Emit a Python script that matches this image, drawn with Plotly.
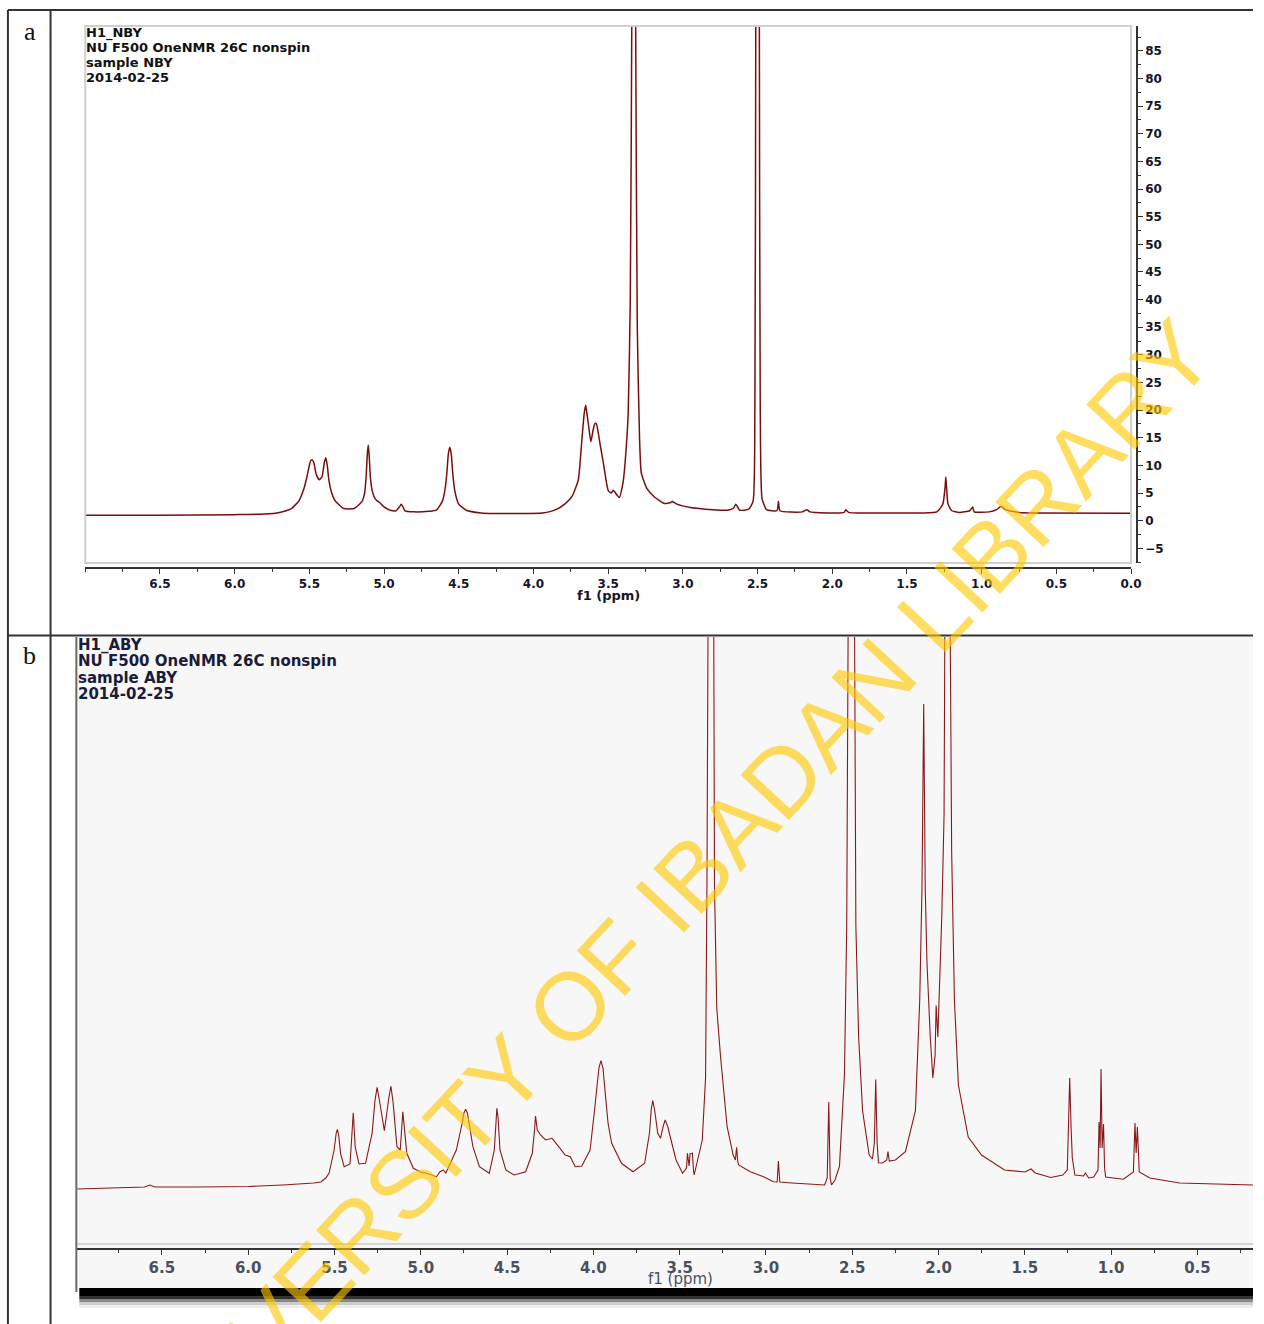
import plotly.graph_objects as go

W, H = 1264, 1324

# ---------------- data ----------------
# Panel a: H1_NBY spectrum (ppm, intensity in axis units)
nby_ppm = [7.00, 6.50, 6.00, 5.80, 5.70, 5.62, 5.57, 5.54, 5.52, 5.50, 5.49, 5.48, 5.47, 5.455,
           5.434, 5.415, 5.40, 5.39, 5.38, 5.37, 5.35, 5.33, 5.27, 5.20, 5.15, 5.13, 5.12, 5.112,
           5.106, 5.10, 5.092, 5.08, 5.06, 5.046, 5.03, 5.00, 4.958, 4.92, 4.895, 4.885, 4.875,
           4.86, 4.80, 4.70, 4.65, 4.61, 4.593, 4.58, 4.57, 4.56, 4.55, 4.54, 4.527, 4.50, 4.45,
           4.35, 4.27, 4.10, 3.94, 3.85, 3.787, 3.74, 3.70, 3.676, 3.66, 3.65, 3.64, 3.63, 3.616,
           3.60, 3.59, 3.58, 3.57, 3.555, 3.532, 3.50, 3.48, 3.466, 3.426, 3.40, 3.387, 3.366,
           3.352, 3.342, 3.33, 3.316, 3.305, 3.29, 3.278, 3.24, 3.19, 3.123, 3.08, 3.07, 3.06,
           3.04, 2.95, 2.80, 2.70, 2.66, 2.645, 2.62, 2.56, 2.53, 2.518, 2.512, 2.50, 2.488,
           2.482, 2.47, 2.44, 2.37, 2.36, 2.35, 2.20, 2.17, 2.15, 1.92, 1.91, 1.89, 1.60, 1.40,
           1.30, 1.26, 1.245, 1.24, 1.235, 1.225, 1.20, 1.15, 1.08, 1.06, 1.05, 0.95, 0.90, 0.87,
           0.84, 0.75, 0.64, 0.00]
nby_int = [1.0, 1.0, 1.1, 1.2, 1.5, 2.2, 3.6, 5.5, 7.5, 10.0, 10.9, 11.0, 10.5, 8.5,
           7.4, 8.0, 10.5, 11.4, 10.0, 7.5, 5.0, 3.7, 2.2, 2.2, 3.4, 5.0, 8.0, 12.0,
           13.7, 12.0, 8.0, 5.5, 4.0, 3.6, 3.3, 2.5, 1.9, 1.8, 2.6, 3.0, 2.6,
           1.8, 1.6, 1.7, 1.9, 3.5, 5.5, 8.5, 12.0, 13.3, 12.0, 8.5, 5.5, 3.0, 1.9,
           1.4, 1.3, 1.3, 1.4, 2.0, 3.1, 4.5, 7.4, 14.6, 19.5, 20.9, 19.0, 17.0, 14.3,
           16.5, 17.5, 17.6, 16.5, 14.0, 10.4, 5.5, 5.0, 5.5, 4.2, 7.0, 10.4, 19.4,
           40.0, 90.0, 250.0, 90.0, 35.0, 15.0, 8.6, 5.8, 4.3, 3.1, 3.3, 3.5, 3.3,
           3.0, 2.4, 2.0, 1.9, 2.3, 3.0, 1.9, 2.1, 3.5, 20.0, 90.0, 250.0, 90.0,
           20.0, 4.0, 2.0, 1.8, 3.5, 1.8, 1.6, 2.0, 1.6, 1.5, 2.0, 1.5, 1.4, 1.4,
           1.6, 3.0, 6.0, 7.9, 6.0, 3.0, 1.8, 1.5, 1.8, 2.5, 1.6, 1.6, 2.0, 2.6,
           2.0, 1.5, 1.4, 1.34]

# Panel b: H1_ABY spectrum (ppm, intensity in arbitrary units)
aby_ppm = [7.00, 6.80, 6.60, 6.57, 6.54, 6.30, 6.00, 5.80, 5.70, 5.62, 5.579, 5.55, 5.531, 5.502,
           5.49, 5.483, 5.475, 5.465, 5.444, 5.41, 5.40, 5.391, 5.38, 5.358, 5.32, 5.282, 5.265,
           5.253, 5.24, 5.211, 5.185, 5.173, 5.16, 5.138, 5.119, 5.104, 5.081, 5.043, 5.00, 4.966,
           4.909, 4.89, 4.87, 4.855, 4.842, 4.794, 4.76, 4.75, 4.740, 4.73, 4.72, 4.698, 4.660,
           4.603, 4.574, 4.565, 4.559, 4.552, 4.541, 4.507, 4.459, 4.392, 4.354, 4.340, 4.335,
           4.325, 4.306, 4.277, 4.239, 4.201, 4.163, 4.134, 4.105, 4.067, 4.019, 3.995, 3.981,
           3.968, 3.956, 3.944, 3.933, 3.915, 3.894, 3.837, 3.770, 3.703, 3.675, 3.665, 3.656,
           3.645, 3.627, 3.611, 3.595, 3.584, 3.570, 3.550, 3.521, 3.483, 3.46, 3.455, 3.445,
           3.44, 3.426, 3.42, 3.416, 3.369, 3.35, 3.342, 3.335, 3.32, 3.305, 3.298, 3.285, 3.263,
           3.225, 3.19, 3.177, 3.17, 3.163, 3.158, 3.091, 3.014, 2.957, 2.935, 2.928, 2.92, 2.85,
           2.75, 2.66, 2.645, 2.636, 2.628, 2.62, 2.60, 2.574, 2.545, 2.532, 2.52, 2.505, 2.49,
           2.479, 2.463, 2.44, 2.402, 2.383, 2.372, 2.364, 2.356, 2.348, 2.325, 2.30, 2.293, 2.285,
           2.25, 2.192, 2.134, 2.109, 2.096, 2.086, 2.077, 2.067, 2.048, 2.033, 2.02, 2.014, 2.004,
           1.991, 1.981, 1.968, 1.962, 1.948, 1.934, 1.924, 1.908, 1.885, 1.828, 1.751, 1.618,
           1.50, 1.464, 1.44, 1.35, 1.28, 1.254, 1.245, 1.24, 1.232, 1.225, 1.21, 1.16, 1.149,
           1.13, 1.101, 1.076, 1.070, 1.064, 1.0585, 1.052, 1.044, 1.038, 1.032, 0.929, 0.871,
           0.862, 0.855, 0.848, 0.837, 0.776, 0.603, 0.40, 0.178]
aby_int = [-1, 0, 1, 3, 1, 1, 1.5, 3, 4, 5, 6, 10, 15, 38,
           55, 58.7, 52, 34.7, 21.3, 24, 51, 75.3, 41.3, 24, 24.7, 54.7, 88,
           100.7, 88, 57.3, 90, 102, 85, 41.3, 38, 76.3, 34.7, 19.7, 16, 14.7,
           11.3, 16, 18, 15, 19.7, 38, 65, 75, 78.7, 75, 65, 41.3, 21.3,
           14.7, 38, 70, 79.7, 70, 38, 18, 13, 16.3, 34.7, 60, 72,
           58, 53, 48, 49.7, 41.3, 33, 31.3, 21.3, 22, 38, 75, 98,
           120, 127.3, 120, 98, 65, 44.7, 24.7, 16.3, 24.7, 54.7, 78, 87.3,
           78, 54.7, 49.7, 62, 68, 62, 48, 28, 14.7, 20, 34.7, 22,
           34, 34.7, 18, 13, 48, 110, 300, 700, 1200, 700, 300, 180, 131,
           61.3, 33, 28, 40.7, 26, 23, 16.3, 11.3, 6.3, 6, 27, 6, 5,
           4, 3, 10, 86, 10, 3, 8, 21.6, 114, 262, 700, 1200, 700,
           262, 151, 77, 33, 29, 45, 108.5, 45, 25.3, 25, 28, 36.4, 27,
           28, 36.4, 77, 188, 299, 484, 299, 225, 151, 110, 132.5, 182.5, 151,
           225, 273, 373, 600, 1200, 600, 336, 188, 103, 51, 33, 18,
           16, 19, 15, 10.5, 13, 18, 70, 110, 60, 30, 13, 12, 15,
           10, 11, 18, 66, 40, 119, 40, 64, 20, 11, 8.7, 16,
           65, 35, 61, 16, 10, 5, 4, 3]

x_ticks_a = [6.5, 6.0, 5.5, 5.0, 4.5, 4.0, 3.5, 3.0, 2.5, 2.0, 1.5, 1.0, 0.5, 0.0]
y_ticks_a = [-5, 0, 5, 10, 15, 20, 25, 30, 35, 40, 45, 50, 55, 60, 65, 70, 75, 80, 85]
x_ticks_b = [6.5, 6.0, 5.5, 5.0, 4.5, 4.0, 3.5, 3.0, 2.5, 2.0, 1.5, 1.0, 0.5]

header_a = ["H1_NBY", "NU F500 OneNMR 26C nonspin", "sample NBY", "2014-02-25"]
header_b = ["H1_ABY", "NU F500 OneNMR 26C nonspin", "sample ABY", "2014-02-25"]
watermark = "UNIVERSITY OF IBADAN LIBRARY"


def fx(x):
    return x / W


def fy(y):
    return 1 - y / H


fig = go.Figure()
fig.add_trace(go.Scatter(x=nby_ppm, y=nby_int, mode="lines", xaxis="x", yaxis="y",
                         line=dict(color="#7a0e0e", width=1.5, shape="spline", smoothing=0.5),
                         hoverinfo="skip", showlegend=False))
fig.add_trace(go.Scatter(x=aby_ppm, y=aby_int, mode="lines", xaxis="x2", yaxis="y2",
                         line=dict(color="#8a1818", width=1.1), hoverinfo="skip", showlegend=False))

tickfont_a = dict(family="DejaVu Sans", size=12, color="#15152a", weight="bold")
tickfont_b = dict(family="DejaVu Sans", size=15, color="#4a5060", weight="bold")

shapes = []


def line(x0, y0, x1, y1, color, width, layer="above"):
    shapes.append(dict(type="line", xref="paper", yref="paper", x0=fx(x0), y0=fy(y0),
                       x1=fx(x1), y1=fy(y1), line=dict(color=color, width=width), layer=layer))


def rect(x0, y0, x1, y1, fill, layer="below", lc=None, lw=0):
    shapes.append(dict(type="rect", xref="paper", yref="paper", x0=fx(x0), y0=fy(y0),
                       x1=fx(x1), y1=fy(y1), fillcolor=fill, layer=layer,
                       line=dict(color=lc if lc else "rgba(0,0,0,0)", width=lw)))


# panel b background and shadow
rect(78, 637, W, 1290, "#f7f7f7")
rect(80, 1288, W, 1296, "#000000", layer="above")
rect(80, 1296, W, 1299, "#333333", layer="above")
rect(80, 1299, W, 1302, "#888888", layer="above")
rect(80, 1302, W, 1305, "#cccccc", layer="above")
rect(80, 1305, W, 1308, "#eeeeee", layer="above")
line(77, 637, 77, 1292, "#6a6a6a", 2)
line(78, 1244, W, 1244, "#c8c8c8", 1.5)
# panel a box
rect(86, 26, 1141, 563, "rgba(0,0,0,0)", layer="above", lc="#cfcfcf", lw=2)
# table lines
line(8, 10, W, 10, "#333333", 2)
line(8, 10, 8, H, "#333333", 2)
line(51, 10, 51, H, "#333333", 2)
line(8, 635.5, W, 635.5, "#333333", 2)

ann = []
ann.append(dict(text="a", x=fx(30), y=fy(31), xref="paper", yref="paper", showarrow=False,
                xanchor="center", yanchor="middle",
                font=dict(family="Liberation Serif", size=26, color="#111")))
ann.append(dict(text="b", x=fx(30), y=fy(655), xref="paper", yref="paper", showarrow=False,
                xanchor="center", yanchor="middle",
                font=dict(family="Liberation Serif", size=26, color="#111")))
for i, t in enumerate(header_a):
    ann.append(dict(text=t, x=fx(85), y=fy(33 + i * 14.7), xref="paper", yref="paper",
                    xanchor="left", yanchor="middle", showarrow=False,
                    font=dict(family="DejaVu Sans", size=13, color="#111", weight="bold")))
for i, t in enumerate(header_b):
    ann.append(dict(text=t, x=fx(77), y=fy(645 + i * 16.3), xref="paper", yref="paper",
                    xanchor="left", yanchor="middle", showarrow=False,
                    font=dict(family="DejaVu Sans", size=15, color="#1c1c3a", weight="bold")))
ann.append(dict(text="f1 (ppm)", x=fx(614), y=fy(595), xref="paper", yref="paper",
                xanchor="center", yanchor="middle", showarrow=False,
                font=dict(family="DejaVu Sans", size=13, color="#15152a", weight="bold")))
ann.append(dict(text="f1 (ppm)", x=fx(686), y=fy(1279), xref="paper", yref="paper",
                xanchor="center", yanchor="middle", showarrow=False,
                font=dict(family="DejaVu Sans", size=15, color="#4a5060")))
ann.append(dict(text=watermark, x=fx(670), y=fy(904), xref="paper", yref="paper",
                xanchor="center", yanchor="middle", showarrow=False, textangle=-47,
                font=dict(family="Liberation Sans", size=96, color="rgba(255,200,0,0.62)")))

fig.update_layout(
    width=W, height=H, autosize=False, margin=dict(l=0, r=0, t=0, b=0),
    paper_bgcolor="white", plot_bgcolor="rgba(0,0,0,0)", showlegend=False,
    xaxis=dict(domain=[fx(86), fx(1141)], range=[7.0, 0.0], anchor="free", position=fy(568),
               showline=True, linecolor="#333", linewidth=1.5, ticks="outside", ticklen=5,
               tickwidth=1.2, tickcolor="#333", tickvals=x_ticks_a, tickformat=".1f",
               tickfont=tickfont_a, showgrid=False, zeroline=False,
               minor=dict(tick0=0, dtick=0.25, ticks="outside", ticklen=3, tickcolor="#333")),
    yaxis=dict(domain=[fy(563), fy(26)], range=[-7.65, 89.5], anchor="free", position=fx(1147),
               side="right", showline=True, linecolor="#333", linewidth=1.5, ticks="outside",
               ticklen=5, tickwidth=1.2, tickcolor="#333", tickvals=y_ticks_a, tickfont=tickfont_a,
               showgrid=False, zeroline=False,
               minor=dict(tick0=0, dtick=2.5, ticks="outside", ticklen=3, tickcolor="#333")),
    xaxis2=dict(domain=[fx(78), 1.0], range=[6.99, 0.178], anchor="free", position=fy(1249),
                showline=True, linecolor="#333", linewidth=1.5, ticks="outside", ticklen=5,
                tickwidth=1.2, tickcolor="#333", tickvals=x_ticks_b, tickformat=".1f",
                tickfont=tickfont_b, showgrid=False, zeroline=False,
                minor=dict(tick0=0, dtick=0.25, ticks="outside", ticklen=3, tickcolor="#333")),
    yaxis2=dict(domain=[fy(1244), fy(637)], range=[-56, 551], anchor="x2", visible=False,
                showgrid=False, zeroline=False),
    shapes=shapes, annotations=ann,
)

post = (
    "document.documentElement.style.overflow='hidden';"
    "document.body.style.margin='0';document.body.style.overflow='hidden';"
)
fig.write_html("out.html", config={"displayModeBar": False}, post_script=post)
